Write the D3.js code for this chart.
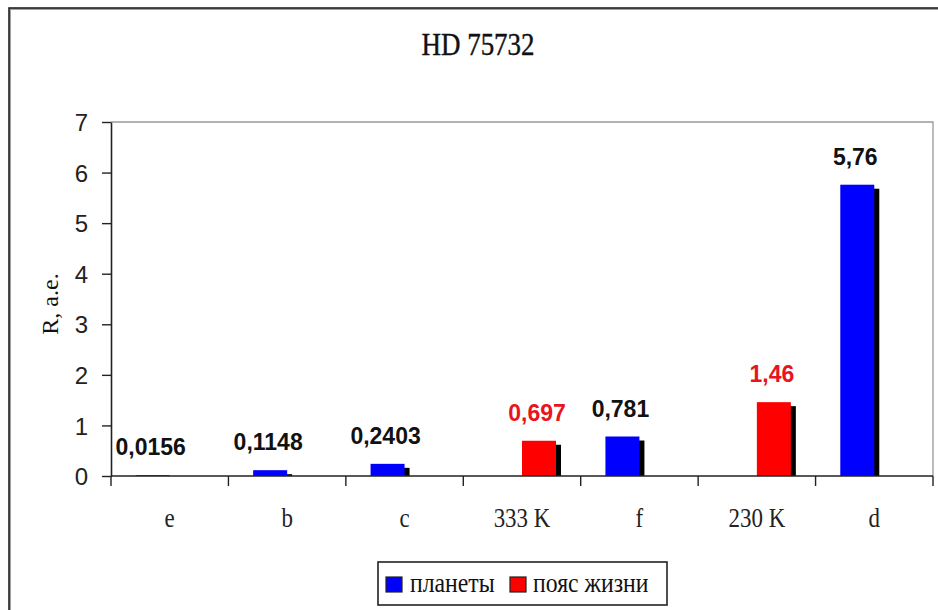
<!DOCTYPE html>
<html>
<head>
<meta charset="utf-8">
<script src="https://cdn.jsdelivr.net/npm/d3@7"></script>
<style>
  html, body { margin: 0; padding: 0; background: #fff; }
  svg { display: block; }
</style>
</head>
<body>
<svg id="chart" width="938" height="610"></svg>
<script>
// Orbital distances in the HD 75732 (55 Cancri) system, AU
const categories = ["e", "b", "c", "333 K", "f", "230 K", "d"];
const planets    = [0.0156, 0.1148, 0.2403, null, 0.781, null, 5.76];
const lifeZone   = [null, null, null, 0.697, null, 1.46, null];
const yTicks     = [0, 1, 2, 3, 4, 5, 6, 7];
const seriesNames = ["планеты", "пояс жизни"];
const seriesColors = ["#0000ff", "#ff0000"];
const labelColors  = ["#111111", "#e8141e"];

const svg = d3.select("#chart");
const plot = { left: 111, right: 933, top: 122, bottom: 476 };

// outer frame with a soft shadow line
svg.append("rect").attr("x", 10).attr("y", 9).attr("width", 960).attr("height", 640)
  .attr("fill", "none").attr("stroke", "#a0a0a0").attr("stroke-width", 2);
svg.append("rect").attr("x", 9).attr("y", 8).attr("width", 960).attr("height", 640)
  .attr("fill", "none").attr("stroke", "#222").attr("stroke-width", 1.6);

const x = d3.scaleBand().domain(categories).range([plot.left, plot.right]).padding(0);
const inner = d3.scaleBand().domain([0, 1]).range([0, x.bandwidth()])
  .paddingInner(0).paddingOuter(0.727);
const y = d3.scaleLinear().domain([0, 7]).range([plot.bottom, plot.top]);

// plot area border (top and right)
svg.append("path")
  .attr("d", `M${plot.left},${plot.top}H${plot.right}V${plot.bottom}`)
  .attr("fill", "none").attr("stroke", "#9a9a9a").attr("stroke-width", 1.3);

// title
svg.append("text")
  .attr("transform", "translate(478,55) scale(0.9,1.05)")
  .attr("text-anchor", "middle")
  .attr("font-family", "'Liberation Serif', 'Times New Roman', serif")
  .attr("font-size", 30).attr("fill", "#111")
  .attr("stroke", "#111").attr("stroke-width", 0.4)
  .text("HD 75732");

// y-axis title
svg.append("text")
  .attr("transform", "translate(58,304) rotate(-90)")
  .attr("text-anchor", "middle")
  .attr("font-family", "'Liberation Serif', 'Times New Roman', serif")
  .attr("font-size", 24).attr("fill", "#111")
  .text("R, а.е.");

// bars: one entry per non-empty series value
const series = [planets, lifeZone];
const bars = [];
series.forEach((vals, s) => {
  vals.forEach((v, i) => {
    if (v != null) bars.push({ cat: categories[i], s, v });
  });
});

const shadowDx = 5, shadowDy = 4;
const bw = inner.bandwidth();

const g = svg.append("g");
// shadows
g.selectAll("rect.shadow").data(bars).join("rect")
  .attr("class", "shadow")
  .attr("x", d => x(d.cat) + inner(d.s) + shadowDx)
  .attr("y", d => Math.min(y(d.v) + shadowDy, y(0)))
  .attr("width", bw)
  .attr("height", d => Math.max(0, y(0) - Math.min(y(d.v) + shadowDy, y(0))))
  .attr("fill", "#000");
// faces
g.selectAll("rect.bar").data(bars).join("rect")
  .attr("class", "bar")
  .attr("x", d => x(d.cat) + inner(d.s))
  .attr("y", d => y(d.v))
  .attr("width", bw)
  .attr("height", d => y(0) - y(d.v))
  .attr("fill", d => seriesColors[d.s]);

// value labels
g.selectAll("text.val").data(bars).join("text")
  .attr("class", "val")
  .attr("x", d => x(d.cat) + inner(d.s) + bw / 2 - 2)
  .attr("y", d => y(d.v) - 20)
  .attr("text-anchor", "middle")
  .attr("font-family", "'Liberation Sans', Arial, sans-serif")
  .attr("font-weight", "bold")
  .attr("font-size", 23)
  .attr("fill", d => labelColors[d.s])
  .text(d => String(d.v).replace(".", ","));

// y axis
const yAxis = d3.axisLeft(y).tickValues(yTicks).tickFormat(d3.format("d"))
  .tickSize(9).tickSizeOuter(0).tickPadding(14);
const ya = svg.append("g").attr("transform", `translate(${plot.left},0)`).call(yAxis);
ya.select(".domain").attr("stroke", "#222").attr("stroke-width", 1.6);
ya.selectAll(".tick line").attr("stroke", "#222").attr("stroke-width", 1.4);
ya.selectAll(".tick text")
  .attr("font-family", "'Liberation Sans', Arial, sans-serif")
  .attr("font-size", 24).attr("fill", "#222")
  .attr("dy", "0.36em");

// x axis: ticks sit on category boundaries
const xa = svg.append("g").attr("transform", `translate(0,${plot.bottom})`);
xa.append("line").attr("x1", plot.left).attr("x2", plot.right)
  .attr("stroke", "#222").attr("stroke-width", 1.6);
const bounds = categories.map(c => x(c)).concat([plot.right]);
xa.selectAll("line.tk").data(bounds).join("line")
  .attr("class", "tk")
  .attr("x1", d => d).attr("x2", d => d)
  .attr("y1", 0).attr("y2", 10)
  .attr("stroke", "#222").attr("stroke-width", 1.4);
xa.selectAll("text.cat").data(categories).join("text")
  .attr("class", "cat")
  .attr("transform", d => `translate(${x(d) + x.bandwidth() / 2},51) scale(0.85,1)`)
  .attr("text-anchor", "middle")
  .attr("font-family", "'Liberation Serif', 'Times New Roman', serif")
  .attr("font-size", 27).attr("fill", "#222")
  .text(d => d);

// legend
const lg = svg.append("g");
lg.append("rect").attr("x", 378).attr("y", 562).attr("width", 289).attr("height", 43)
  .attr("fill", "#fff").attr("stroke", "#222").attr("stroke-width", 1.6);
const legendItems = [
  { name: seriesNames[0], color: seriesColors[0], x: 386, tx: 410 },
  { name: seriesNames[1], color: seriesColors[1], x: 510, tx: 533 }
];
legendItems.forEach(it => {
  lg.append("rect").attr("x", it.x).attr("y", 577).attr("width", 16).attr("height", 15)
    .attr("fill", it.color).attr("stroke", "#222").attr("stroke-width", 1.2);
  lg.append("text")
    .attr("transform", `translate(${it.tx},592) scale(0.88,1.05)`)
    .attr("font-family", "'Liberation Serif', 'Times New Roman', serif")
    .attr("font-size", 27).attr("fill", "#111")
    .text(it.name);
});
</script>
</body>
</html>
